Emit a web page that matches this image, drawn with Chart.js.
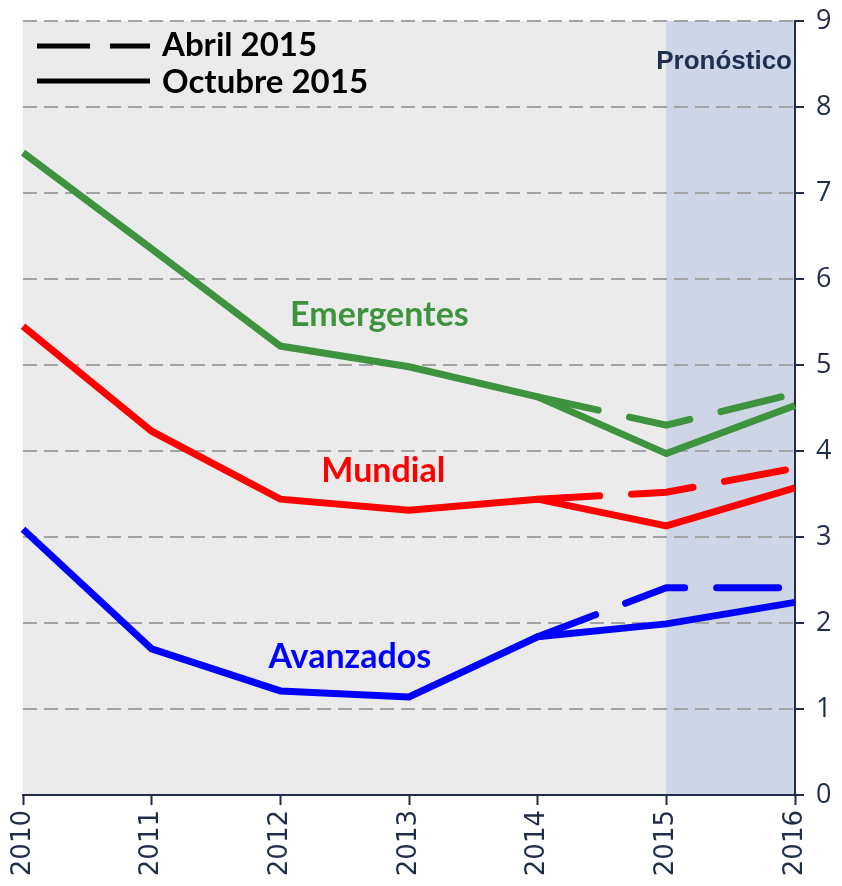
<!DOCTYPE html>
<html>
<head>
<meta charset="utf-8">
<script src="https://cdn.jsdelivr.net/npm/chart.js@4"></script>
<style>
  html, body { margin: 0; padding: 0; background: #fff; }
  #wrap { width: 842px; height: 886px; position: relative; }
</style>
</head>
<body>
<div id="wrap"><canvas id="chart"></canvas></div>
<script>
// ---- data ----
const years = ["2010", "2011", "2012", "2013", "2014", "2015", "2016"];
const yTicks = [0, 1, 2, 3, 4, 5, 6, 7, 8, 9];

// Octubre 2015 (solid)
const emergentesOct = [7.47, 6.35, 5.22, 4.98, 4.63, 3.97, 4.53];
const mundialOct    = [5.45, 4.23, 3.44, 3.31, 3.44, 3.13, 3.57];
const avanzadosOct  = [3.09, 1.70, 1.21, 1.14, 1.84, 1.99, 2.24];

// Abril 2015 (dashed)
const emergentesAbr = [null, null, null, null, 4.63, 4.30, 4.67];
const mundialAbr    = [null, null, null, null, 3.44, 3.52, 3.80];
const avanzadosAbr  = [null, null, null, null, 1.84, 2.41, 2.41];

const forecastStart = "2015";
const forecastEnd = "2016";

const GREEN = "#3e943e";
const RED = "#ff0000";
const BLUE = "#0000ff";
const NAVY = "#1f2d4a";

const solid = (data, color) => ({
  data, borderColor: color, borderWidth: 7, pointRadius: 0,
  tension: 0, borderJoinStyle: "miter", spanGaps: false
});
const dashed = (data, color) => ({
  data, borderColor: color, borderWidth: 7, pointRadius: 0,
  tension: 0, borderDash: [62, 32], borderCapStyle: "round", spanGaps: false
});

// background + forecast band
const bgPlugin = {
  id: "bg",
  beforeDraw(chart) {
    const { ctx, chartArea: a, scales: { x } } = chart;
    ctx.save();
    ctx.fillStyle = "#ebebeb";
    ctx.fillRect(a.left, a.top, a.right - a.left, a.bottom - a.top);
    const x0 = x.getPixelForValue(years.indexOf(forecastStart));
    const x1 = x.getPixelForValue(years.indexOf(forecastEnd));
    ctx.fillStyle = "#cdd5e6";
    ctx.fillRect(x0, a.top, x1 - x0, a.bottom - a.top);
    ctx.restore();
  }
};

// series names, legend and "Pronóstico"
const seriesLabels = [
  { text: "Emergentes", color: GREEN, at: [2.77, 5.58] },
  { text: "Mundial", color: RED, at: [2.80, 3.77] },
  { text: "Avanzados", color: BLUE, at: [2.54, 1.60] }
];

const textPlugin = {
  id: "texts",
  afterDatasetsDraw(chart) {
    const { ctx, chartArea: a, scales: { x, y } } = chart;
    ctx.save();
    ctx.textBaseline = "middle";
    ctx.font = "bold 34px Lato, 'Open Sans', sans-serif";
    ctx.textAlign = "center";
    seriesLabels.forEach(l => {
      ctx.fillStyle = l.color;
      ctx.fillText(l.text, x.getPixelForValue(l.at[0]), y.getPixelForValue(l.at[1]));
    });

    // Pronóstico
    ctx.fillStyle = "#1e2f50";
    ctx.textAlign = "right";
    ctx.font = "bold 26px 'Liberation Sans', Arial, sans-serif";
    ctx.fillText("Pronóstico", a.right - 3, y.getPixelForValue(8.52));

    // legend
    const lx = a.left + 14, lw = 113;
    ctx.strokeStyle = "#000";
    ctx.lineWidth = 5;
    ctx.beginPath();
    ctx.moveTo(lx, 46); ctx.lineTo(lx + 53, 46);
    ctx.moveTo(lx + 73, 46); ctx.lineTo(lx + lw, 46);
    ctx.moveTo(lx, 81); ctx.lineTo(lx + lw, 81);
    ctx.stroke();
    ctx.fillStyle = "#000";
    ctx.textAlign = "left";
    ctx.font = "bold 33px Lato, 'Open Sans', sans-serif";
    ctx.fillText("Abril 2015", lx + 125, 45);
    ctx.fillText("Octubre 2015", lx + 125, 82);
    ctx.restore();
  }
};

new Chart(document.getElementById("chart"), {
  type: "line",
  data: {
    labels: years,
    datasets: [
      dashed(emergentesAbr, GREEN),
      dashed(mundialAbr, RED),
      dashed(avanzadosAbr, BLUE),
      solid(emergentesOct, GREEN),
      solid(mundialOct, RED),
      solid(avanzadosOct, BLUE)
    ]
  },
  options: {
    responsive: true,
    maintainAspectRatio: false,
    animation: false,
    layout: { padding: { left: 23, top: 21, right: 0, bottom: 0 } },
    plugins: { legend: { display: false }, tooltip: { enabled: false } },
    scales: {
      x: {
        type: "category",
        offset: false,
        afterFit: s => { s.height = 91; },
        border: { color: NAVY, width: 2 },
        grid: { drawOnChartArea: false, drawTicks: true, tickLength: 10, tickColor: NAVY, tickWidth: 2 },
        ticks: {
          color: NAVY, minRotation: 90, maxRotation: 90, autoSkip: false, padding: 5,
          font: { family: "'DejaVu Sans', Verdana, sans-serif", size: 26 }
        }
      },
      y: {
        position: "right",
        min: yTicks[0],
        max: yTicks[yTicks.length - 1],
        afterFit: s => { s.width = 47; s.paddingTop = 0; s.paddingBottom = 0; },
        afterBuildTicks: s => { s.ticks = yTicks.map(v => ({ value: v })); },
        grid: {
          color: c => (c.tick && c.tick.value === 0 ? "rgba(0,0,0,0)" : "#a3a3a3"),
          lineWidth: 2, tickColor: NAVY, tickLength: 9, tickWidth: 2, tickBorderDash: []
        },
        border: { color: NAVY, width: 2, dash: [14, 7] },
        ticks: {
          color: NAVY, padding: 12,
          font: { family: "'Open Sans', sans-serif", size: 27 }
        }
      }
    }
  },
  plugins: [bgPlugin, textPlugin]
});
</script>
</body>
</html>
